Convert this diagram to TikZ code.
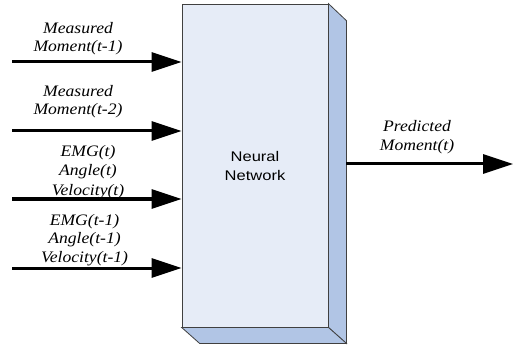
\documentclass[tikz,border=0pt]{standalone}
\usepackage{fontspec}
\newfontfamily\lblfont[FakeStretch=1.1]{Liberation Serif}
\newfontfamily\boxfont[FakeStretch=1.18]{Liberation Sans}
\usetikzlibrary{positioning, arrows.meta, calc}
\definecolor{faceblue}{HTML}{E6ECF7}
\definecolor{sideblue}{HTML}{B1C5E5}
\definecolor{edgegray}{HTML}{404040}

\begin{document}
\begin{tikzpicture}[x=1pt, y=-1pt,
    sig/.style={line width=3pt, -{Triangle[length=30pt,width=19pt]}},
    lbl/.style={inner sep=0pt, align=center, anchor=south,
      font=\lblfont\itshape\fontsize{16}{18.5}\selectfont}]
  \useasboundingbox (0,0) rectangle (515,345);

  % Block
  \node[draw=edgegray, line width=0.8pt, fill=faceblue, minimum width=146pt,
    minimum height=323pt, inner sep=0pt, align=center,
    font=\boxfont\fontsize{14}{19}\selectfont] (nn) at (255,165.5) {Neural\\Network};
  \draw[draw=edgegray, line width=0.8pt, fill=sideblue]
    (nn.north east) -- ++(18,17) -- ($(nn.south east)+(18,16)$) -- (nn.south east) -- cycle;
  \draw[draw=edgegray, line width=0.8pt, fill=sideblue]
    (nn.south west) -- ++(18,16) -- ($(nn.south east)+(18,16)$) -- (nn.south east) -- cycle;

  % Inputs
  \foreach \y/\name in {62/mm1, 131/mm2, 199/cur, 268/prev}{
    \coordinate (\name) at (12,\y);
    \draw[sig] (\name) -- (\name -| nn.west);
  }
  \node[lbl] (lmm1) at (78,55.5) {Measured\\Moment(t-1)};
  \node[lbl] (lmm2) at (78,118.5) {Measured\\Moment(t-2)};
  \node[lbl, font=\lblfont\itshape\fontsize{16}{19.5}\selectfont] (lcur) at (88,199) {EMG(t)\\Angle(t)\\Velocity(t)};
  \node[lbl] (lprev) at (84.5,266) {EMG(t-1)\\Angle(t-1)\\Velocity(t-1)};

  % Output
  \coordinate (outstart) at (346,164);
  \coordinate (outend) at (513,164);
  \draw[sig] (outstart) -- (outend);
  \node[lbl] (lout) at (417,154) {Predicted\\Moment(t)};
\end{tikzpicture}
\end{document}
